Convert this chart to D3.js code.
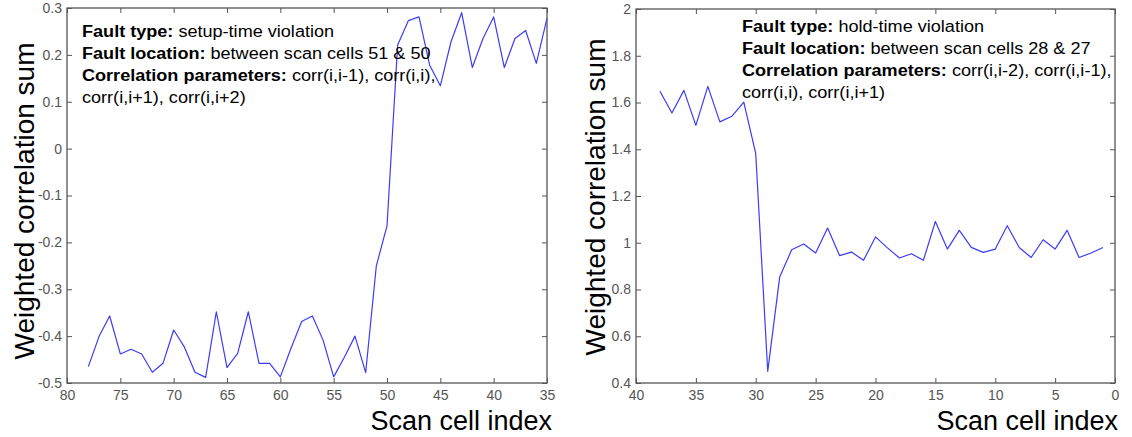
<!DOCTYPE html>
<html>
<head>
<meta charset="utf-8">
<script src="https://cdn.jsdelivr.net/npm/d3@7"></script>
<style>
  body { margin: 0; background: #fff; }
  svg { display: block; font-family: Arial, "Liberation Sans", sans-serif; }
</style>
</head>
<body>
<svg class="chart"></svg>
<script>
// left panel: setup-time violation
const setupIndex = [78, 77, 76, 75, 74, 73, 72, 71, 70, 69, 68, 67, 66, 65, 64, 63, 62, 61, 60, 59, 58, 57,
  56, 55, 54, 53, 52, 51, 50, 49, 48, 47, 46, 45, 44, 43, 42, 41, 40, 39, 38, 37, 36, 35];
const setupValues = [-0.465, -0.401, -0.357, -0.438, -0.428, -0.438, -0.477, -0.458, -0.387, -0.423, -0.477,
  -0.488, -0.348, -0.467, -0.437, -0.348, -0.458, -0.458, -0.487, -0.426, -0.369, -0.357, -0.408, -0.487,
  -0.445, -0.400, -0.478, -0.250, -0.165, 0.221, 0.273, 0.281, 0.178, 0.134, 0.228, 0.290, 0.173, 0.235,
  0.281, 0.173, 0.235, 0.252, 0.182, 0.278];
const setupXTicks = [80, 75, 70, 65, 60, 55, 50, 45, 40, 35];
const setupYTicks = [-0.5, -0.4, -0.3, -0.2, -0.1, 0, 0.1, 0.2, 0.3];
const setupYLabels = ["-0.5", "-0.4", "-0.3", "-0.2", "-0.1", "0", "0.1", "0.2", "0.3"];

// right panel: hold-time violation
const holdIndex = [38, 37, 36, 35, 34, 33, 32, 31, 30, 29, 28, 27, 26, 25, 24, 23, 22, 21, 20, 19, 18, 17,
  16, 15, 14, 13, 12, 11, 10, 9, 8, 7, 6, 5, 4, 3, 2, 1];
const holdValues = [1.648, 1.555, 1.652, 1.502, 1.669, 1.517, 1.541, 1.602, 1.381, 0.450, 0.853, 0.970,
  0.995, 0.956, 1.063, 0.945, 0.960, 0.925, 1.025, 0.978, 0.935, 0.953, 0.925, 1.091, 0.973, 1.053, 0.980,
  0.959, 0.973, 1.073, 0.980, 0.937, 1.013, 0.973, 1.053, 0.937, 0.956, 0.980];
const holdXTicks = [40, 35, 30, 25, 20, 15, 10, 5, 0];
const holdYTicks = [0.4, 0.6, 0.8, 1, 1.2, 1.4, 1.6, 1.8, 2];
const holdYLabels = ["0.4", "0.6", "0.8", "1", "1.2", "1.4", "1.6", "1.8", "2"];

const setupNotes = [
  ["Fault type:", " setup-time violation"],
  ["Fault location:", " between scan cells 51 & 50"],
  ["Correlation parameters:", " corr(i,i-1), corr(i,i),"],
  ["", "corr(i,i+1), corr(i,i+2)"]
];
const holdNotes = [
  ["Fault type:", " hold-time violation"],
  ["Fault location:", " between scan cells 28 & 27"],
  ["Correlation parameters:", " corr(i,i-2), corr(i,i-1),"],
  ["", "corr(i,i), corr(i,i+1)"]
];

const svg = d3.select('.chart')
  .attr('width', 1132)
  .attr('height', 437);

function drawPanel(opt) {
  const x = d3.scaleLinear().domain(opt.xDomain).range([opt.left, opt.right]);
  const y = d3.scaleLinear().domain(opt.yDomain).range([opt.bottom, opt.top]);
  const g = svg.append('g');
  const axisColor = '#555';

  const yFmt = d => opt.yLabels[opt.yTicks.indexOf(d)];

  const styleAxis = sel => {
    sel.select('.domain').remove();
    sel.selectAll('line').attr('stroke', axisColor).attr('stroke-width', 1);
    sel.selectAll('text').attr('fill', '#555').style('font-size', '14px')
      .style('font-family', 'Arial, "Liberation Sans", sans-serif');
  };

  g.append('g').attr('transform', `translate(0,${opt.bottom})`)
    .call(d3.axisBottom(x).tickValues(opt.xTicks).tickSize(-5).tickPadding(7).tickFormat(d => d))
    .call(styleAxis);
  g.append('g').attr('transform', `translate(0,${opt.top})`)
    .call(d3.axisTop(x).tickValues(opt.xTicks).tickSize(-5).tickFormat(''))
    .call(styleAxis);
  g.append('g').attr('transform', `translate(${opt.left},0)`)
    .call(d3.axisLeft(y).tickValues(opt.yTicks).tickSize(-5).tickPadding(5).tickFormat(yFmt))
    .call(styleAxis);
  g.append('g').attr('transform', `translate(${opt.right},0)`)
    .call(d3.axisRight(y).tickValues(opt.yTicks).tickSize(-5).tickFormat(''))
    .call(styleAxis);

  g.append('rect')
    .attr('x', opt.left).attr('y', opt.top)
    .attr('width', opt.right - opt.left).attr('height', opt.bottom - opt.top)
    .attr('fill', 'none').attr('stroke', axisColor).attr('stroke-width', 1.3);

  const line = d3.line()
    .x((d, i) => x(opt.index[i]))
    .y(d => y(d));

  g.append('path')
    .datum(opt.values)
    .attr('d', line)
    .attr('fill', 'none')
    .attr('stroke', '#3c3cf8')
    .attr('stroke-width', 1.2)
    .attr('stroke-linejoin', 'round');

  // annotation block (source text is a bit wider than the font, so stretch it)
  const notes = g.append('g')
    .attr('transform', `translate(${opt.noteX},${opt.noteY}) scale(1.13,1)`);
  opt.notes.forEach((n, i) => {
    const t = notes.append('text')
      .attr('x', 0)
      .attr('y', i * 22)
      .attr('xml:space', 'preserve')
      .style('font-size', '16px')
      .attr('fill', '#000');
    if (n[0]) t.append('tspan').style('font-weight', 'bold').text(n[0]);
    t.append('tspan').text(n[1]);
  });

  g.append('text')
    .attr('transform', `translate(${opt.yLabelX},${opt.yLabelY}) rotate(-90)`)
    .attr('text-anchor', 'middle')
    .style('font-size', '28px')
    .text('Weighted correlation sum');

  g.append('text')
    .attr('x', opt.xLabelX)
    .attr('y', 430)
    .attr('text-anchor', 'end')
    .style('font-size', '27px')
    .text('Scan cell index');
}

drawPanel({
  index: setupIndex, values: setupValues,
  xDomain: [80, 35], yDomain: [-0.5, 0.3],
  xTicks: setupXTicks, yTicks: setupYTicks, yLabels: setupYLabels,
  left: 67, right: 547, top: 8, bottom: 383,
  notes: setupNotes, noteX: 82, noteY: 37,
  yLabelX: 34, yLabelY: 201, xLabelX: 552
});

drawPanel({
  index: holdIndex, values: holdValues,
  xDomain: [40, 0], yDomain: [0.4, 2],
  xTicks: holdXTicks, yTicks: holdYTicks, yLabels: holdYLabels,
  left: 636, right: 1115, top: 9, bottom: 383,
  notes: holdNotes, noteX: 742, noteY: 32,
  yLabelX: 605, yLabelY: 197, xLabelX: 1118
});
</script>
</body>
</html>
